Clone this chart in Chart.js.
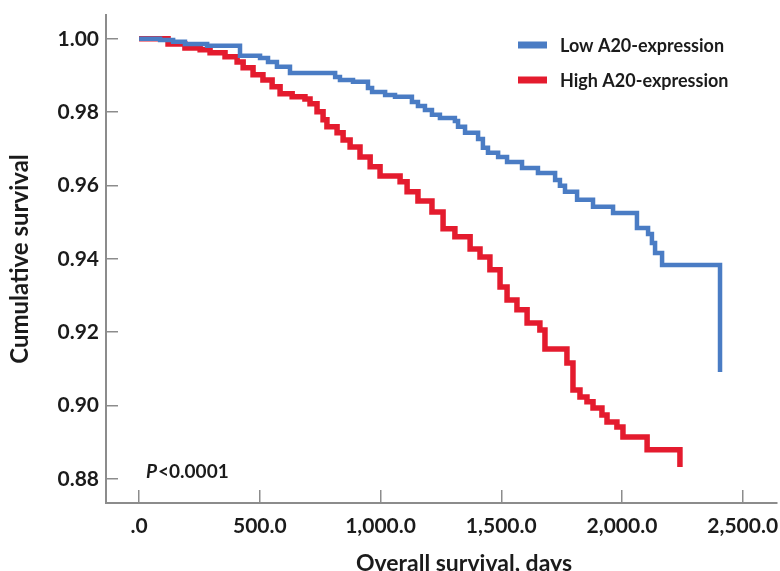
<!DOCTYPE html>
<html>
<head>
<meta charset="utf-8">
<script src="https://cdn.jsdelivr.net/npm/chart.js@4.4.1/dist/chart.umd.min.js"></script>
<style>
  html, body { margin: 0; padding: 0; background: #fff; }
  #wrap { width: 780px; height: 571px; }
</style>
</head>
<body>
<div id="wrap"><canvas id="kmChart" width="780" height="571"></canvas></div>
<script>
// Kaplan-Meier steps: day of each drop, survival after it
const lowDays = [0, 87, 141, 190, 282, 418, 501, 534, 571, 625, 812, 832, 886, 948, 965, 1019, 1060,
  1130, 1155, 1184, 1213, 1246, 1308, 1321, 1350, 1404, 1424, 1445, 1487, 1524, 1586, 1652, 1723,
  1743, 1764, 1814, 1880, 1963, 2062, 2108, 2124, 2137, 2166, 2406];
const lowSurvival = [1.0000, 0.9997, 0.9992, 0.9986, 0.9981, 0.9954, 0.9948, 0.9937, 0.9924, 0.9907,
  0.9896, 0.9888, 0.9883, 0.9866, 0.9855, 0.9847, 0.9842, 0.9828, 0.9817, 0.9806, 0.9793, 0.9784,
  0.9776, 0.9760, 0.9744, 0.9727, 0.9703, 0.9689, 0.9678, 0.9664, 0.9648, 0.9634, 0.9615, 0.9599,
  0.9583, 0.9561, 0.9542, 0.9525, 0.9484, 0.9468, 0.9443, 0.9416, 0.9383, 0.9091];

const highDays = [0, 120, 190, 253, 294, 356, 406, 431, 472, 513, 551, 584, 634, 687, 708, 737, 762,
  778, 820, 845, 874, 915, 957, 998, 1081, 1110, 1155, 1213, 1259, 1308, 1371, 1412, 1453, 1495,
  1524, 1565, 1607, 1660, 1681, 1772, 1797, 1826, 1855, 1880, 1917, 1938, 1979, 2004, 2104, 2240];
const highSurvival = [1.0000, 0.9986, 0.9975, 0.9970, 0.9962, 0.9951, 0.9937, 0.9921, 0.9902, 0.9888,
  0.9869, 0.9850, 0.9842, 0.9836, 0.9823, 0.9801, 0.9779, 0.9760, 0.9744, 0.9724, 0.9705, 0.9678,
  0.9651, 0.9626, 0.9610, 0.9583, 0.9558, 0.9528, 0.9482, 0.9460, 0.9427, 0.9405, 0.9370, 0.9323,
  0.9288, 0.9261, 0.9225, 0.9206, 0.9154, 0.9116, 0.9042, 0.9023, 0.9010, 0.8993, 0.8974, 0.8955,
  0.8941, 0.8914, 0.8879, 0.8832];

const seriesNames = ['Low A20-expression', 'High A20-expression'];
const seriesColors = ['#4a7cc4', '#e41b2e'];
const xTicks = [0, 500, 1000, 1500, 2000, 2500];
const xTickLabels = ['.0', '500.0', '1,000.0', '1,500.0', '2,000.0', '2,500.0'];
const yTicks = [0.88, 0.90, 0.92, 0.94, 0.96, 0.98, 1.00];
const xTitle = 'Overall survival, days';
const yTitle = 'Cumulative survival';
const pValue = '<0.0001';

const FONT = 'Lato, "Open Sans", sans-serif';
const AXIS_GREY = '#8c8c8c';
const TEXT = '#1b1b1b';

function toPoints(days, surv) {
    return days.map((d, i) => ({ x: d, y: surv[i] }));
}

// keep the plot box fixed: no extra room for labels hanging over the ends
function noLabelPadding(s) {
    s.paddingLeft = 0;
    s.paddingRight = 0;
    s.paddingTop = 0;
    s.paddingBottom = 0;
}

// legend, p-value and x title drawn by hand so they sit where the figure has them
const annotations = {
    id: 'annotations',
    afterDraw(chart) {
        const ctx = chart.ctx;
        ctx.save();
        ctx.textBaseline = 'middle';
        ctx.textAlign = 'left';
        ctx.font = 'bold 18px ' + FONT;
        chart.data.datasets.forEach((ds, i) => {
            const y = 45 + i * 35;
            ctx.strokeStyle = ds.borderColor;
            ctx.lineWidth = 7;
            ctx.beginPath();
            ctx.moveTo(518, y);
            ctx.lineTo(547, y);
            ctx.stroke();
            ctx.fillStyle = TEXT;
            ctx.fillText(ds.label, 560, y + 1);
        });

        ctx.font = 'italic bold 19px ' + FONT;
        ctx.fillText('P', 146, 472);
        const pw = ctx.measureText('P').width;
        ctx.font = 'bold 19px ' + FONT;
        ctx.fillText(pValue, 146 + pw + 1, 472);

        ctx.textAlign = 'center';
        ctx.font = 'bold 23px ' + FONT;
        ctx.fillText(xTitle, 464, 564);
        ctx.restore();
    }
};

const ctx = document.getElementById('kmChart').getContext('2d');
new Chart(ctx, {
    type: 'scatter',
    data: {
        datasets: [
            {
                label: seriesNames[0],
                data: toPoints(lowDays, lowSurvival),
                borderColor: seriesColors[0],
                borderWidth: 4.5,
                showLine: true,
                stepped: 'before',
                pointRadius: 0,
                fill: false
            },
            {
                label: seriesNames[1],
                data: toPoints(highDays, highSurvival),
                borderColor: seriesColors[1],
                borderWidth: 5.5,
                showLine: true,
                stepped: 'before',
                pointRadius: 0,
                fill: false
            }
        ]
    },
    options: {
        responsive: false,
        animation: false,
        layout: { padding: { left: 0, top: 15, right: 3, bottom: 0 } },
        plugins: {
            legend: { display: false },
            tooltip: { enabled: false }
        },
        scales: {
            x: {
                type: 'linear',
                min: -137,
                max: 2642,
                afterBuildTicks: (s) => { s.ticks = xTicks.map(v => ({ value: v })); },
                afterFit: (s) => { s.height = 68; noLabelPadding(s); },
                ticks: {
                    padding: 24,
                    color: TEXT,
                    font: { family: FONT, size: 21, weight: 'bold' },
                    maxRotation: 0,
                    autoSkip: false,
                    callback: (v, i) => xTickLabels[i]
                },
                grid: {
                    drawOnChartArea: false,
                    drawTicks: true,
                    tickLength: -13,
                    color: AXIS_GREY,
                    lineWidth: 1.5
                },
                border: { color: AXIS_GREY, width: 2 }
            },
            y: {
                min: 0.8734,
                max: 1.0065,
                afterBuildTicks: (s) => { s.ticks = yTicks.map(v => ({ value: v })); },
                afterFit: (s) => { s.width = 106; noLabelPadding(s); },
                ticks: {
                    padding: 19,
                    color: TEXT,
                    font: { family: FONT, size: 21, weight: 'bold' },
                    callback: (v) => Number(v).toFixed(2)
                },
                grid: {
                    drawOnChartArea: false,
                    drawTicks: true,
                    tickLength: -12,
                    color: AXIS_GREY,
                    lineWidth: 1.5
                },
                border: { color: AXIS_GREY, width: 2 },
                title: {
                    display: true,
                    text: yTitle,
                    color: TEXT,
                    font: { family: FONT, size: 24, weight: 'bold' },
                    padding: { top: 6, bottom: 0 }
                }
            }
        }
    },
    plugins: [annotations]
});
</script>
</body>
</html>
